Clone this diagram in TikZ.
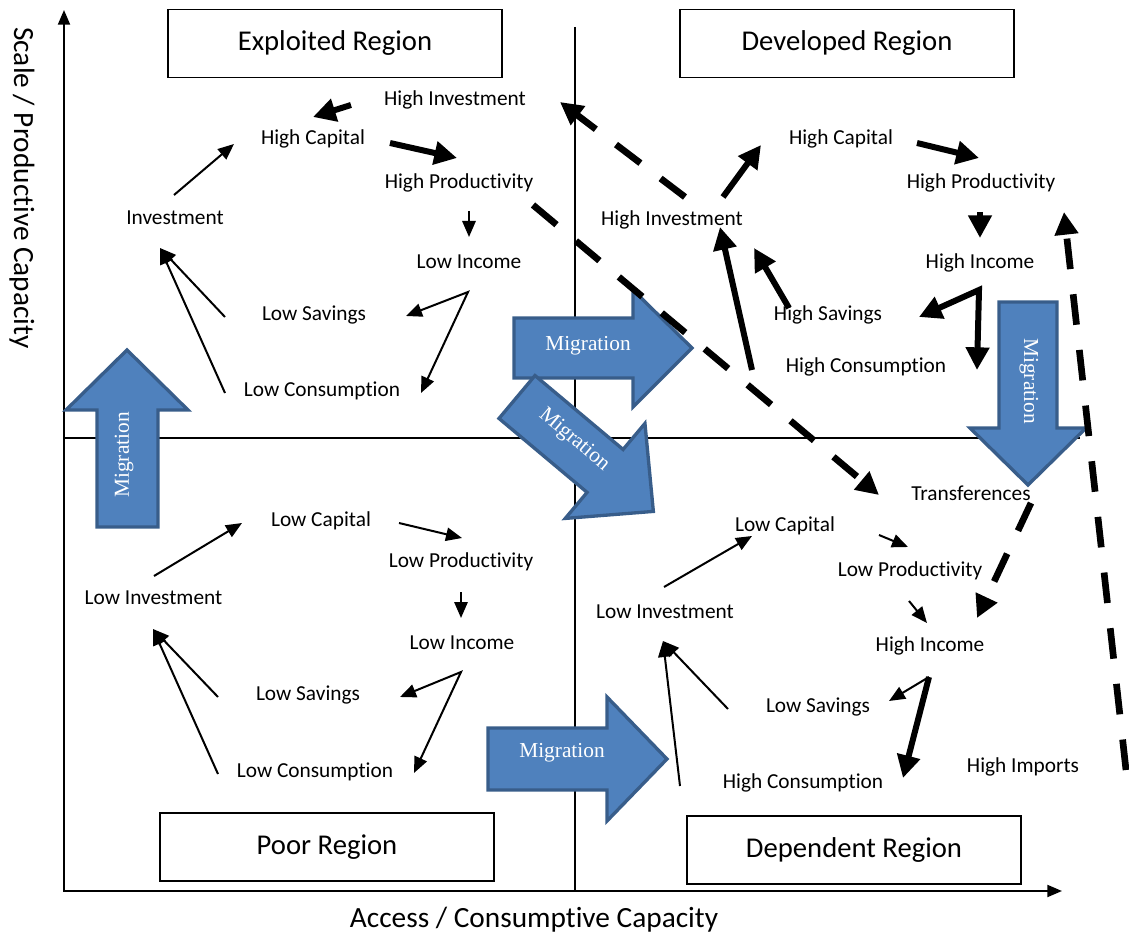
\documentclass[tikz,border=0pt]{standalone}
\usepackage{fontspec}
\setmainfont{Carlito}[Ligatures=NoCommon]
\newfontfamily\migfont{Liberation Serif}
\usetikzlibrary{arrows.meta}
\definecolor{migfill}{HTML}{4F81BD}
\definecolor{migline}{HTML}{385D8A}
\begin{document}
\begin{tikzpicture}[x=0.75pt,y=-0.75pt,
  lbl/.style={font=\fontsize{16}{19}\selectfont, inner sep=0pt},
  regionbox/.style={draw, line width=1.1pt, minimum width=250.5pt, minimum height=51pt, inner sep=0pt, font=\fontsize{21.5}{26}\selectfont},
  axislbl/.style={font=\fontsize{22}{26}\selectfont, inner sep=0pt},
  thinarr/.style={line width=1.5pt, -{Triangle[length=12pt,width=10pt]}},
  thickarr/.style={line width=4.5pt, -{Triangle[length=17pt,width=17pt]}},
  dasharr/.style={line width=5pt, dash pattern=on 23pt off 19pt, -{Triangle[length=17pt,width=17pt]}},
  migr/.style={fill=migfill, draw=migline, line width=2.5pt, line join=miter},
  migtext/.style={text=white, font=\migfont\fontsize{16}{19}\selectfont, inner sep=0pt},
  axisline/.style={line width=1.5pt, line join=miter},
  quadline/.style={line width=1pt},
]
\useasboundingbox (0,0) rectangle (1129,938);

% axes and quadrant lines
\coordinate (O) at (64,891);
\coordinate (ytip) at (64,10);
\coordinate (xtip) at (1062,891);
\coordinate (vtop) at (575,27);
\coordinate (vbot) at (575,891);
\coordinate (hl) at (64,438);
\coordinate (hr) at (1080,438);
\draw[quadline] (vtop) -- (vbot);
\draw[quadline] (hl) -- (hr);
\draw[axisline, {Triangle[length=11pt,width=9pt]}-{Triangle[length=11pt,width=9pt]}] (ytip) -- (O) -- (xtip);

\node[axislbl, rotate=-90] (ylab) at (22,188) {Scale / Productive Capacity};
\node[axislbl] (xlab) at (534,920) {Access / Consumptive Capacity};

% region boxes
\node[regionbox] (exploited) at (335,43.5) {Exploited Region};
\node[regionbox] (developed) at (847,43.5) {Developed Region};
\node[regionbox] (poor) at (327,847) {Poor Region};
\node[regionbox] (dependent) at (854,850) {Dependent Region};

% migration arrows
\draw[migr] (97,527) -- (97,410) -- (66,410) -- (127,350) -- (188,410) -- (158,410) -- (158,527) -- cycle;
\draw[migr] (514,318) -- (633,318) -- (633,290) -- (692,348) -- (633,407) -- (633,378) -- (514,378) -- cycle;
\begin{scope}[shift={(517,397)}, rotate=-40]
\draw[migr] (0,-28) -- (115,-28) -- (115,-62) -- (178,0) -- (115,62) -- (115,28) -- (0,28) -- cycle;
\end{scope}
\draw[migr] (488,728) -- (607,728) -- (607,697) -- (667,759) -- (607,821) -- (607,790) -- (488,790) -- cycle;
\draw[migr] (999,302) -- (999,428) -- (970,428) -- (1028,485) -- (1086,428) -- (1057,428) -- (1057,302) -- cycle;

\node[migtext, rotate=90] (m1) at (124,455) {Migration};
\node[migtext] (m2) at (588,346) {Migration};
\node[migtext, rotate=-40] (m3) at (574,440) {Migration};
\node[migtext] (m4) at (562,753) {Migration};
\node[migtext, rotate=-90] (m5) at (1029,381) {Migration};

% Exploited region labels
\node[lbl] (eHI) at (455,100) {High Investment};
\node[lbl] (eHC) at (313,139) {High Capital};
\node[lbl] (eHP) at (459,183) {High Productivity};
\node[lbl] (eInv) at (175,218) {Investment};
\node[lbl] (eLI) at (469,262) {Low Income};
\node[lbl] (eLS) at (314,315) {Low Savings};
\node[lbl] (eLC) at (322,391) {Low Consumption};

% Developed region labels
\node[lbl] (dHC) at (841,139) {High Capital};
\node[lbl] (dHP) at (981,183) {High Productivity};
\node[lbl] (dHI) at (672,220) {High Investment};
\node[lbl] (dHInc) at (980,263) {High Income};
\node[lbl] (dHS) at (828,315) {High Savings};
\node[lbl] (dHCons) at (866,367) {High Consumption};

% Poor region labels
\node[lbl] (pLC) at (321,521) {Low Capital};
\node[lbl] (pLP) at (461,562) {Low Productivity};
\node[lbl] (pLI) at (153.5,598) {Low Investment};
\node[lbl] (pLInc) at (462,643) {Low Income};
\node[lbl] (pLS) at (308,695) {Low Savings};
\node[lbl] (pLCons) at (315,772) {Low Consumption};

% Dependent region labels
\node[lbl] (qT) at (971,493) {Transferences};
\node[lbl] (qLC) at (785,526) {Low Capital};
\node[lbl] (qLP) at (910,571) {Low Productivity};
\node[lbl] (qLI) at (665,612) {Low Investment};
\node[lbl] (qHInc) at (930,646) {High Income};
\node[lbl] (qLS) at (818,707) {Low Savings};
\node[lbl] (qHCons) at (803,783) {High Consumption};
\node[lbl] (qHImp) at (1023,767) {High Imports};

% connector end points
\coordinate (a1s) at (351,105); \coordinate (a1e) at (313,117);
\coordinate (a2s) at (390,143); \coordinate (a2e) at (457,158);
\coordinate (a3s) at (469,211); \coordinate (a3e) at (469,237);
\coordinate (a4s) at (174,195); \coordinate (a4e) at (234,144);
\coordinate (a5x) at (468,292); \coordinate (a5e) at (406,316); \coordinate (a6e) at (421,393);
\coordinate (a7s) at (225,317); \coordinate (a8s) at (225,393); \coordinate (a7e) at (160,248);

\coordinate (b1s) at (723,197); \coordinate (b1e) at (761,145);
\coordinate (b2s) at (917,143); \coordinate (b2e) at (979,158);
\coordinate (b3s) at (980,212); \coordinate (b3e) at (980,238);
\coordinate (b4x) at (979,290); \coordinate (b4e) at (919,317); \coordinate (b5e) at (977,370);
\coordinate (b6s) at (789,308); \coordinate (b6e) at (754,248);
\coordinate (b7s) at (752,370); \coordinate (b7e) at (720,227);

\coordinate (c1s) at (685,197); \coordinate (c1e) at (560,102);
\coordinate (c2s) at (533,205); \coordinate (c2e) at (879,495);
\coordinate (c3s) at (1031,503); \coordinate (c3e) at (977,618);
\coordinate (c4s) at (1126,770); \coordinate (c4e) at (1064,212);

\coordinate (p1s) at (154,576); \coordinate (p1e) at (242,523);
\coordinate (p2s) at (399,523); \coordinate (p2e) at (462,538);
\coordinate (p3s) at (461,592); \coordinate (p3e) at (461,618);
\coordinate (p4x) at (461,672); \coordinate (p4e) at (400,697); \coordinate (p5e) at (414,773);
\coordinate (p6s) at (218,697); \coordinate (p7s) at (218,774); \coordinate (p6e) at (153,629);

\coordinate (q1s) at (664,587); \coordinate (q1e) at (752,536);
\coordinate (q2s) at (879,535); \coordinate (q2e) at (908,547);
\coordinate (q3s) at (909,601); \coordinate (q3e) at (927,623);
\coordinate (q4x) at (929,677); \coordinate (q4e) at (889,701); \coordinate (q5e) at (903,778);
\coordinate (q6s) at (728,709); \coordinate (q7s) at (680,786); \coordinate (q6e) at (663,641);

% Exploited connectors
\draw[thickarr] (a1s) -- (a1e);
\draw[thickarr] (a2s) -- (a2e);
\draw[thinarr] (a3s) -- (a3e);
\draw[thinarr] (a4s) -- (a4e);
\draw[thinarr, {Triangle[length=12pt,width=10pt]}-{Triangle[length=12pt,width=10pt]}, line join=miter] (a5e) -- (a5x) -- (a6e);
\draw[thinarr] (a7s) -- (a7e);
\draw[thinarr] (a8s) -- (a7e);

% Developed connectors
\draw[thickarr] (b1s) -- (b1e);
\draw[thickarr] (b2s) -- (b2e);
\draw[thickarr] (b3s) -- (b3e);
\draw[thickarr, {Triangle[length=17pt,width=17pt]}-{Triangle[length=17pt,width=17pt]}, line join=miter] (b4e) -- (b4x) -- (b5e);
\draw[thickarr] (b6s) -- (b6e);
\draw[thickarr] (b7s) -- (b7e);

% dashed connectors
\draw[dasharr] (c1s) -- (c1e);
\draw[dasharr] (c2s) -- (c2e);
\draw[dasharr] (c3s) -- (c3e);
\draw[dasharr] (c4s) -- (c4e);

% Poor connectors
\draw[thinarr] (p1s) -- (p1e);
\draw[thinarr] (p2s) -- (p2e);
\draw[thinarr] (p3s) -- (p3e);
\draw[thinarr, {Triangle[length=12pt,width=10pt]}-{Triangle[length=12pt,width=10pt]}, line join=miter] (p4e) -- (p4x) -- (p5e);
\draw[thinarr] (p6s) -- (p6e);
\draw[thinarr] (p7s) -- (p6e);

% Dependent connectors
\draw[thinarr] (q1s) -- (q1e);
\draw[thinarr] (q2s) -- (q2e);
\draw[thinarr] (q3s) -- (q3e);
\draw[thinarr] (q4x) -- (q4e);
\draw[thickarr] (q4x) -- (q5e);
\draw[thinarr] (q6s) -- (q6e);
\draw[thinarr] (q7s) -- (q6e);
\end{tikzpicture}
\end{document}
